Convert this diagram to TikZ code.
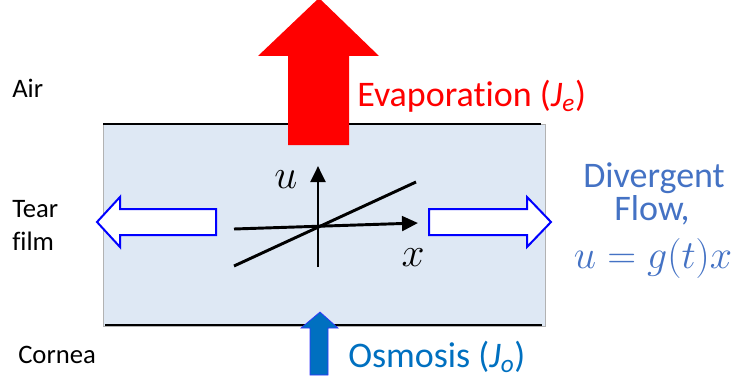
\RequirePackage{fix-cm}
\documentclass[tikz,border=0pt]{standalone}
\usepackage{fontspec}
\setmainfont{Carlito}[Ligatures=NoCommon, RawFeature={-liga;-clig}]
\usetikzlibrary{arrows.meta}
\definecolor{filmblue}{HTML}{DEE8F4}
\definecolor{divblue}{HTML}{4472C4}
\definecolor{osmblue}{HTML}{0070C0}
\tikzset{
  lbl/.style={font=\fontsize{20}{24}\selectfont, anchor=base west, inner sep=0pt},
  big/.style={font=\fontsize{27}{32}\selectfont, inner sep=0pt},
  flowarrow/.style={draw=blue, line width=1.5pt, fill=white, line join=miter},
  axis/.style={line width=2.2pt, -{Triangle[length=12pt,width=11pt]}},
  interface/.style={line width=1.1pt, black}
}
\begin{document}
\begin{tikzpicture}[x=0.75pt, y=-0.75pt]
\useasboundingbox (0,0) rectangle (735,385);
% tear film box
\fill[filmblue, draw=gray!60, line width=0.6pt] (103,124) rectangle (545,326);
\draw[interface] (103,124) -- (541,124);
\draw[interface] (105,325) -- (542,325);
% evaporation arrow
\fill[red] (288,145) -- (288,56) -- (258,56) -- (319,-2) -- (379,56) -- (349,56) -- (349,145) -- cycle;
\node[big, text=red, anchor=base west] (evap) at (357,106) {Evaporation (\textit{J}\textsubscript{\textit{e}})};
% osmosis arrow
\filldraw[fill=osmblue, draw=blue!80, line width=0.5pt] (310,375) -- (310,328) -- (301,328) -- (320,312) -- (338,328) -- (328,328) -- (328,375) -- cycle;
\node[big, text=osmblue, anchor=base west] (osm) at (348,367) {Osmosis (\textit{J}\textsubscript{\textit{o}})};
% divergent flow arrows
\draw[flowarrow] (216,209) -- (120,209) -- (120,197) -- (97,222) -- (120,247) -- (120,235) -- (216,235) -- cycle;
\draw[flowarrow] (429,209) -- (527,209) -- (527,197) -- (551,222) -- (527,247) -- (527,235) -- (429,235) -- cycle;
% axes
\coordinate (vb) at (318,267);
\coordinate (vt) at (318,166);
\coordinate (hl) at (234,229);
\coordinate (hr) at (418,223);
\coordinate (dl) at (234,266);
\coordinate (dr) at (416,182);
\draw[axis] (vb) -- (vt);
\draw[axis] (hl) -- (hr);
\draw[line width=2.2pt] (dl) -- (dr);
\node[font=\fontsize{31}{36}\selectfont, inner sep=0pt] (ulab) at (286,180) {$u$};
\node[font=\fontsize{31}{36}\selectfont, inner sep=0pt] (xlab) at (413,258) {$x$};
% side labels
\node[lbl] (air) at (12,98) {Air};
\node[lbl] (tear) at (12,217) {Tear};
\node[lbl] (film) at (12,250) {film};
\node[lbl] (cornea) at (18,363) {Cornea};
% divergent flow text
\node[big, text=divblue, anchor=base] (div) at (654,187) {Divergent};
\node[big, text=divblue, anchor=base] (flow) at (652,220) {Flow,};
\node[big, text=divblue, anchor=base] (eq) at (653,268) {\fontsize{30}{36}\selectfont$u = g(t)x$};
\end{tikzpicture}
\end{document}
